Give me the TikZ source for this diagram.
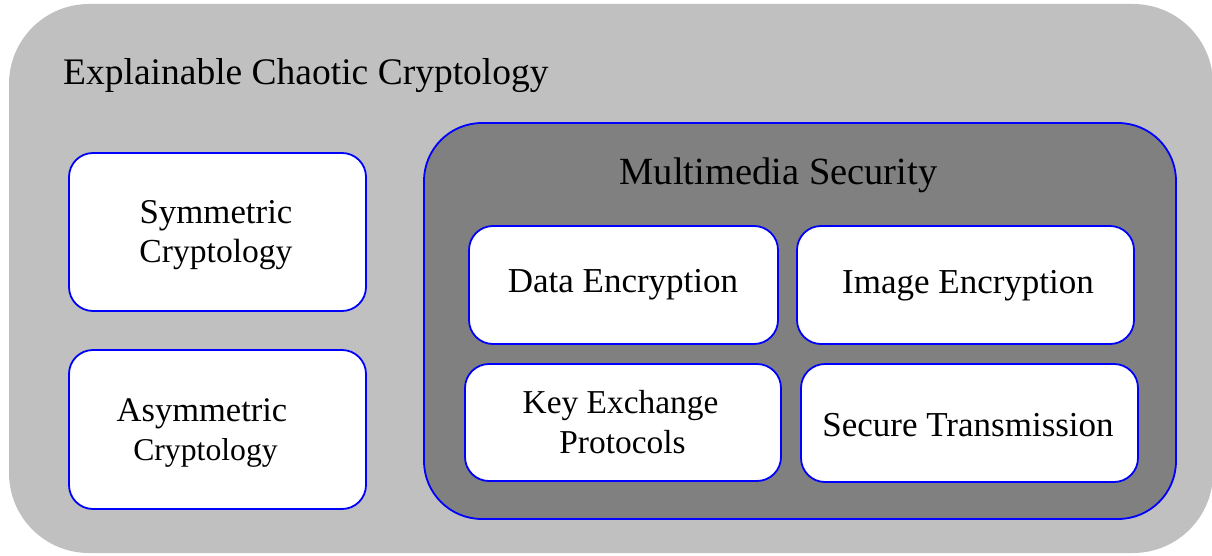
\documentclass[tikz,border=0pt]{standalone}
\usepackage{fontspec}
\setmainfont{Liberation Serif}
\begin{document}
\begin{tikzpicture}[x=1pt,y=-1pt,
  panel/.style={draw=blue,line width=1.8pt,rounded corners=#1},
  box/.style={panel=24pt,fill=white},
  txt/.style={anchor=base,inner sep=0pt,font=\fontsize{#1}{#1}\selectfont}]
\useasboundingbox (0,0) rectangle (1212,556);
% outer frame
\fill[fill={rgb,255:red,192;green,192;blue,192},rounded corners=80pt] (9,4) rectangle (1213,553);
\node[txt=37.5,anchor=base west] (title) at (63,85) {Explainable Chaotic Cryptology};
% left column
\draw[box] (69,153) rectangle (366,311);
\node[txt=34.8] (sym1) at (216,223) {Symmetric};
\node[txt=33.6] (sym2) at (216,262) {Cryptology};
\draw[box] (69,350) rectangle (366,509);
\node[txt=34.5] (asym1) at (202,421) {Asymmetric};
\node[txt=31.7] (asym2) at (205.5,460) {Cryptology};
% multimedia panel
\draw[panel=58pt,fill={rgb,255:red,128;green,128;blue,128}] (424,123) rectangle (1176,519);
\node[txt=38.5] (mm) at (778.5,185) {Multimedia Security};
\draw[box] (469,226) rectangle (778,344);
\node[txt=35] (de) at (623,292) {Data Encryption};
\draw[box] (797,226) rectangle (1134,344);
\node[txt=35] (ie) at (968,293) {Image Encryption};
\draw[box] (465,364) rectangle (781,481);
\node[txt=33.4] (ke1) at (620.5,413) {Key Exchange};
\node[txt=33.4] (ke2) at (622.5,453) {Protocols};
\draw[box] (801,364) rectangle (1138,482);
\node[txt=35] (st) at (968,436) {Secure Transmission};
\end{tikzpicture}
\end{document}
